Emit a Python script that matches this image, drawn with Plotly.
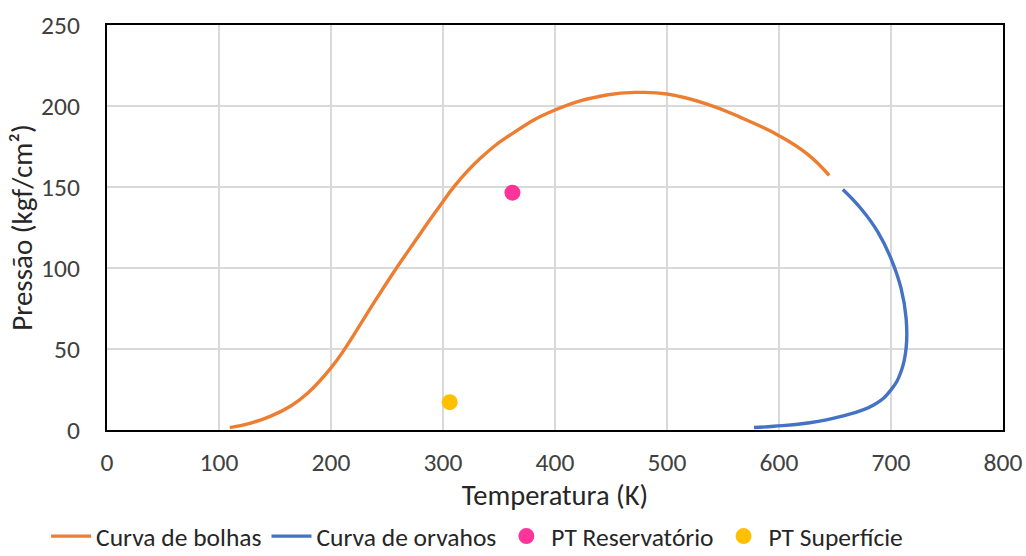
import plotly.graph_objects as go

# Bubble-point curve (Temperature K, Pressure kgf/cm²)
bolha_T = [109.6, 128.4, 146.3, 164.1, 179.3, 199.8, 213.2, 228, 241.5, 258.5, 275, 289.7,
           300, 309, 333.8, 363.2, 400, 446, 476, 500, 535.8, 565.6, 600, 625.4, 644.8]
bolha_P = [1.5, 4.3, 8.6, 14.8, 22.8, 38.2, 51, 67.2, 82.0, 100, 116.5, 131.2,
           141, 149.5, 168, 183.6, 197.5, 206.8, 208.4, 207.4, 201.2, 193, 181.7, 170.3, 157.2]

# Dew-point curve
orvalho_T = [657, 673.3, 688.2, 700, 709, 713.5, 713.5, 709, 700, 684.9, 655.4, 625.6, 595.5, 577.7]
orvalho_P = [148.5, 136.6, 122.3, 105.8, 87.4, 68.9, 50.5, 36.1, 24.8, 15.6, 8.4, 4.3, 2.3, 1.5]

# Operating points
res_T, res_P = [362], [146.5]
sup_T, sup_P = [306], [17.2]

FONT = "Carlito, Calibri, Lato, sans-serif"

fig = go.Figure()
fig.add_trace(go.Scatter(x=bolha_T, y=bolha_P, mode="lines", name="Curva de bolhas",
                         line=dict(color="#ED7D31", width=3.4, shape="spline", smoothing=1.3)))
fig.add_trace(go.Scatter(x=orvalho_T, y=orvalho_P, mode="lines", name="Curva de orvahos",
                         line=dict(color="#4472C4", width=3.4, shape="spline", smoothing=1.3)))
fig.add_trace(go.Scatter(x=res_T, y=res_P, mode="markers", name="PT Reservatório",
                         marker=dict(color="#FF3399", size=16)))
fig.add_trace(go.Scatter(x=sup_T, y=sup_P, mode="markers", name="PT Superfície",
                         marker=dict(color="#FFC000", size=16)))

axis_common = dict(
    showgrid=True, gridcolor="#D9D9D9", gridwidth=1.8,
    showline=True, linecolor="black", linewidth=2, mirror=True,
    zeroline=False, ticks="", automargin=False,
    tickfont=dict(family=FONT, size=25.5, color="#404040"),
)

fig.update_xaxes(range=[0, 800], dtick=100, ticklabelstandoff=8,
                 title=dict(text="Temperatura (K)", font=dict(family=FONT, size=28.5, color="#262626"), standoff=4),
                 **axis_common)
fig.update_yaxes(range=[0, 250], dtick=50, ticklabelstandoff=20,
                 title=dict(text="Pressão (kgf/cm²)", font=dict(family=FONT, size=29, color="#262626"), standoff=0),
                 **axis_common)

fig.update_layout(
    width=1026, height=556,
    margin=dict(l=107, r=23, t=25, b=126, autoexpand=False),
    plot_bgcolor="white", paper_bgcolor="white",
    font=dict(family=FONT),
    legend=dict(orientation="h", xref="container", yref="container",
                x=0.465, xanchor="center", y=0.035, yanchor="middle",
                font=dict(family=FONT, size=25.5, color="#262626"),
                itemwidth=40, tracegroupgap=0),
)

fig.write_html("out.html")
